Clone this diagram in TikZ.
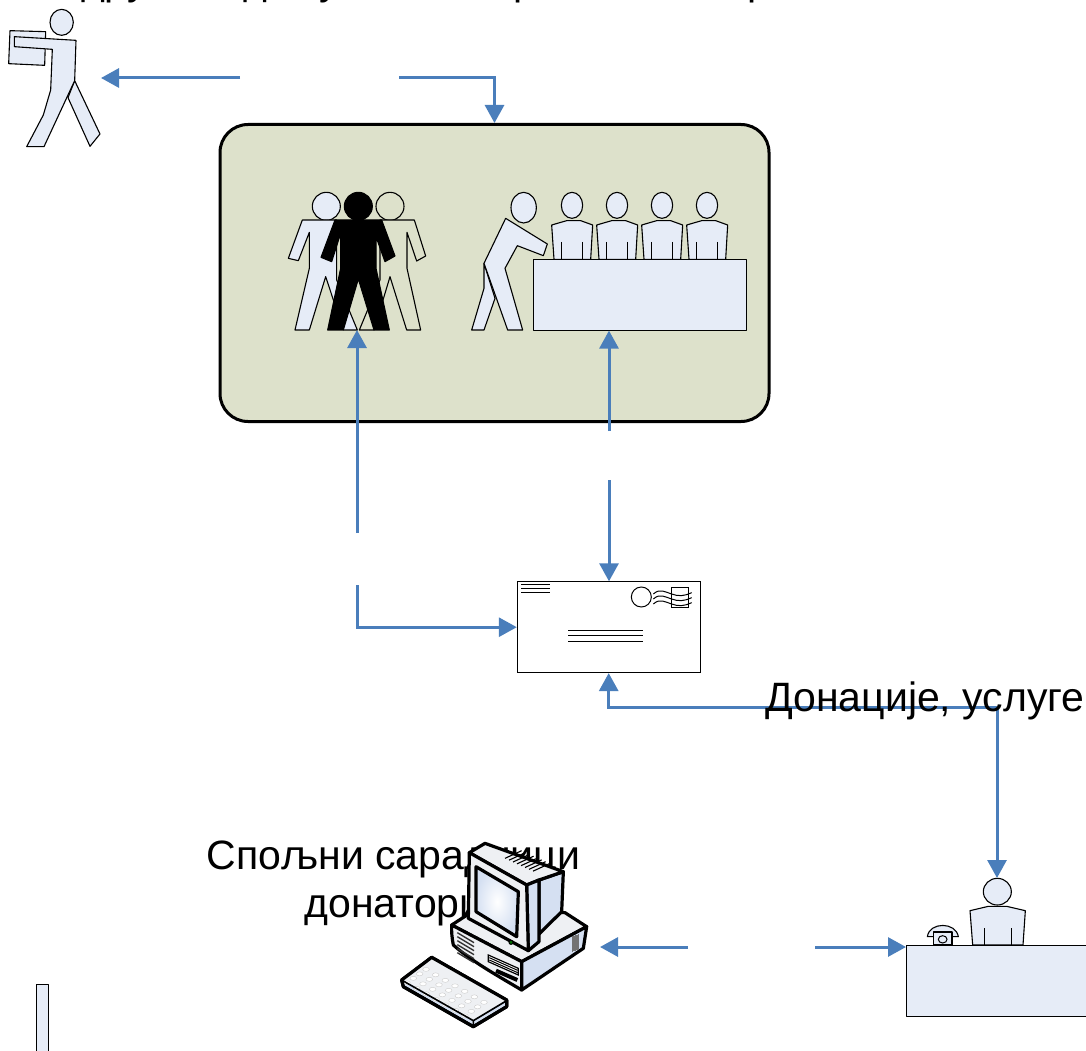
\documentclass[tikz,border=0pt]{standalone}
\usepackage{fontspec}
\setmainfont{Liberation Sans}
\usetikzlibrary{arrows.meta,calc}
\definecolor{conn}{HTML}{4A7EBB}
\definecolor{pale}{HTML}{E6ECF7}
\definecolor{board}{HTML}{DDE1CB}
\definecolor{shell}{HTML}{EEF0F3}
\definecolor{side}{HTML}{D5E0F2}
\tikzset{
  link/.style={conn,line width=3pt,-{Triangle[length=18pt,width=19pt]}},
  fig/.style={draw=black,fill=pale,line width=1.1pt,line join=round},
  tiny/.style={draw=black,line width=1pt},
  lbl/.style={font=\fontsize{41}{48}\selectfont,text=black,inner sep=0pt,align=center},
  comp/.style={draw=black,line width=3.2pt,line join=round},
  zoomed/.style={x=.33333pt,y=-.33333pt}
}
\begin{document}
\begin{tikzpicture}[x=1pt,y=-1pt]
\useasboundingbox (0,0) rectangle (1086,1051);
\clip (0,0) rectangle (1086,1051);
% board
\node[draw=black,fill=board,line width=3pt,rounded corners=28pt,minimum width=549pt,minimum height=297pt,inner sep=0pt] (panel) at (494.5,273) {};
% top clipped text
\node[lbl,anchor=base west] (toptext) at (58,-5) {Удружен, дому\hspace{8pt} волонтери пензионери};
% carrier
\begin{scope}[zoomed]
\draw[fig] (30,92)--(137,95)--(134,196)--(26,191)--cycle;
\draw[fig] (224,242)--(300,402)--(270,439)--(204,293)--cycle;
\draw[fig] (43,110)--(228,121)--(224,242)--(132,440)--(80,440)--(130,345)--(152,270)--(157,148)--(43,140)--cycle;
\draw[fig] (185,67) ellipse [x radius=35,y radius=39];
\end{scope}
% group of three
\begin{scope}[shift={(280,180)},zoomed]
\draw[fig,fill=board] (330,79) circle [radius=42];
\draw[fig,fill=board] (300,120)--(403,120)--(437,228)--(410,243)--(381,157)--(381,265)--(422,450)--(380,450)--(330,290)--(282,450)--(238,450)--(300,300)--cycle;
\draw[fig] (139,79) circle [radius=42];
\draw[fig] (67,120)--(170,120)--(170,300)--(232,450)--(190,450)--(137,290)--(88,450)--(45,450)--(88,265)--(88,157)--(55,242)--(25,235)--cycle;
\draw[fig,fill=black] (235,79) circle [radius=42];
\draw[fig,fill=black] (165,120)--(305,120)--(345,228)--(315,245)--(288,170)--(288,265)--(328,450)--(282,450)--(235,297)--(190,450)--(143,450)--(182,265)--(182,160)--(155,245)--(123,232)--cycle;
\end{scope}
% committee at a table
\begin{scope}[shift={(460,180)},zoomed]
\draw[fig] (72,250)--(72,325)--(35,450)--(72,450)--(105,355)--cycle;
\draw[fig] (137,115)--(262,192)--(250,227)--(172,197)--(135,265)--(188,450)--(143,450)--(72,250)--cycle;
\draw[fig] (191,83) ellipse [x radius=38,y radius=46];
\foreach \cx in {336,471,606,741}{
  \draw[fig] (\cx,76) ellipse [x radius=32,y radius=39];
  \draw[fig] (\cx-61,135)--(\cx-16,122)--(\cx+26,122)--(\cx+62,135)--(\cx+56,238)--(\cx-54,238)--cycle;
  \draw[tiny] (\cx-31,186)--(\cx-31,238) (\cx+31,186)--(\cx+31,238);
}
\end{scope}
\node[fig,line width=.8pt,minimum width=213pt,minimum height=71pt,inner sep=0pt] (table) at (639.7,294.7) {};
\coordinate (crowd) at (357,330);
% envelope
\node[draw=black,fill=white,line width=.8pt,minimum width=183pt,minimum height=91pt,inner sep=0pt] (envelope) at (608.7,627.2) {};
\begin{scope}[shift={(500,570)},zoomed]
\draw[tiny] (63,44)--(150,44) (63,56)--(150,56) (63,68)--(150,68);
\draw[tiny] (205,180)--(430,180) (205,197)--(430,197) (205,214)--(430,214);
\draw[tiny] (424,81) circle [radius=30];
\draw[tiny] (515,51) rectangle (566,112);
\foreach \wy in {72,87,102}{
  \draw[tiny] (460,\wy) .. controls (480,\wy-18) and (495,\wy-6) .. (515,\wy) .. controls (535,\wy+8) and (555,\wy+6) .. (575,\wy-4);
}
\end{scope}
% reception desk
\begin{scope}[shift={(890,860)},zoomed]
\draw[fig] (322,95) ellipse [x radius=42,y radius=40];
\draw[fig] (240,152)--(295,139)--(350,139)--(406,152)--(399,255)--(248,255)--cycle;
\draw[tiny] (282,204)--(282,255) (364,204)--(364,255);
\draw[fig] (112,230) .. controls (118,185) and (198,185) .. (205,230)--cycle;
\draw[fig] (131,216) rectangle (186,255);
\draw[tiny] (158,238) ellipse [x radius=13,y radius=11];
\end{scope}
\node[fig,anchor=north west,minimum width=200pt,minimum height=71pt,inner sep=0pt] (desk) at (906,945) {};
% partial figure bottom left
\node[fig,anchor=north west,minimum width=12pt,minimum height=90pt,inner sep=0pt] (stub) at (36,984) {};
% labels
\node[lbl] (external) at (393.5,883) {Спољни сарадници\\донатори};
% computer
\begin{scope}[shift={(390,830)},zoomed]
% base
\draw[comp,fill=shell] (185,285)--(262,235)--(525,248)--(590,290)--(395,395)--cycle;
\draw[comp,fill=shell] (185,285)--(395,395)--(395,480) .. controls (310,430) and (240,390) .. (190,345) .. controls (186,325) and (184,305) .. (185,285)--cycle;
\draw[comp,fill=side] (395,395)--(590,290)--(580,355)--(395,480)--cycle;
\foreach \t in {0,1,2,3,4,5}{\draw[line width=1.4pt,black!80] ($(202,308)+(0,\t*12)$)--($(252,338)+(0,\t*12)$);}
\draw[line width=1.2pt,black,fill=white] (295,375)--(385,415)--(385,435)--(295,395)--cycle;
\draw[line width=1pt,black] (298,383)--(383,421) (298,390)--(383,428);
\draw[line width=4pt,black] (318,422)--(382,450);
\foreach \t in {0,...,7}{\draw[line width=.9pt,black!55] ($(546,320)+(\t*2.8,-\t*1)$)--($(546,366)+(\t*2.8,-\t*1)$);}
% monitor
\draw[comp,fill=side] (447,150)--(520,125)--(515,245)--(447,312)--cycle;
\draw[comp,fill=shell] (238,68)--(285,40)--(520,125)--(447,150)--(410,165)--cycle;
\foreach \t in {0,1,2,3,4,5,6,7}{\draw[line width=1.1pt,black] ($(345,85)+(\t*12,\t*5.5)$)--($(395,62)+(\t*12,\t*5.5)$);}
\draw[comp,fill=side] (410,165)--(447,150)--(447,335)--(415,362)--cycle;
\draw[comp,fill=shell] (238,68)--(410,165)--(415,362)--(235,265)--cycle;
\shade[inner color=white,outer color=side,draw=black,line width=3.2pt,line join=round] (258,110)--(385,185)--(380,320)--(258,245)--cycle;
\draw[line width=1pt,black,fill=green!45!black] (363,337) circle [radius=6];
% keyboard
\draw[comp,fill=side] (35,450)--(125,382)--(350,510)--(350,530)--(250,590)--(40,470)--cycle;
\fill[shell] (38,448)--(125,384)--(348,510)--(250,570)--cycle;
\foreach \i in {1,...,7}{\foreach \j in {1,...,4}{
  \fill[white,draw=black!20,line width=.4pt] ($(98,388)+(\i*29,\i*16.5)+(\j*-19,\j*13.5)$) ellipse [x radius=10,y radius=6];
}}
\draw[comp,line width=1.6pt] (38,452)--(250,572)--(350,512) (250,572)--(250,590);
\draw[comp] (35,450)--(125,382)--(350,510)--(350,530)--(250,590)--(40,470)--cycle;
\end{scope}
% connector anchors
\coordinate (carrier) at (101,78);
\coordinate (gapLa) at (240,78);
\coordinate (gapLb) at (399,78);
\coordinate (gapMa) at (357,533);
\coordinate (gapMb) at (357,585);
\coordinate (gapRa) at (609,431);
\coordinate (gapRb) at (609,480);
\coordinate (pc) at (600,947);
\coordinate (gapBa) at (688,947);
\coordinate (gapBb) at (815,947);
\coordinate (corner) at (997,707);
\coordinate (clerk) at (997,878);
\draw[link] (gapLa) -- (carrier);
\draw[link] (gapLb) -| (panel.north);
\draw[link] (gapMa) -- (crowd);
\draw[link] (gapMb) |- (envelope.west);
\draw[link] (gapRa) -- (gapRa |- table.south);
\draw[link] (gapRb) -- (gapRb |- envelope.north);
\draw[link] (corner) -| (envelope.south);
\draw[link] (corner) -- (clerk);
\draw[link] (gapBa) -- (pc);
\draw[link] (gapBb) -- (gapBb -| desk.west);
\node[lbl,anchor=base west] (donations) at (765,711) {Донације, услуге};
\end{tikzpicture}
\end{document}
